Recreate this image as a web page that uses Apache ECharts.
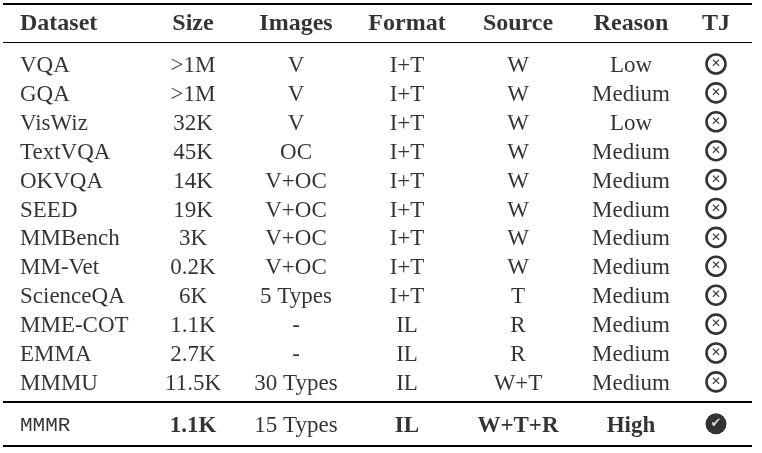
<!DOCTYPE html>
<html><head><meta charset="utf-8">
<script src="https://cdn.jsdelivr.net/npm/echarts@6/dist/echarts.min.js"></script>
<style>html,body{margin:0;padding:0;background:#fff}#c{width:762px;height:453px}</style>
</head><body><div id="c"></div>
<script>
const headers = ['Dataset','Size','Images','Format','Source','Reason','TJ'];
const datasets = ['VQA','GQA','VisWiz','TextVQA','OKVQA','SEED','MMBench','MM-Vet','ScienceQA','MME-COT','EMMA','MMMU'];
const sizes = ['>1M','>1M','32K','45K','14K','19K','3K','0.2K','6K','1.1K','2.7K','11.5K'];
const images = ['V','V','V','OC','V+OC','V+OC','V+OC','V+OC','5 Types','-','-','30 Types'];
const formats = ['I+T','I+T','I+T','I+T','I+T','I+T','I+T','I+T','I+T','IL','IL','IL'];
const sources = ['W','W','W','W','W','W','W','W','T','R','R','W+T'];
const reasons = ['Low','Medium','Low','Medium','Medium','Medium','Medium','Medium','Medium','Medium','Medium','Medium'];
const tj = [false,false,false,false,false,false,false,false,false,false,false,false];
const ours = ['MMMR','1.1K','15 Types','IL','W+T+R','High',true];

// layout
const colX = [20,193,296,407,518,631,716];
const headerRow = -1.45, oursRow = 12.45;
const rules = [{y:-2.076,w:2},{y:-0.761,w:1.2},{y:11.696,w:1.8},{y:13.218,w:2.2}];
const serif = 'Liberation Serif';
const columns = [datasets,sizes,images,formats,sources,reasons];
const off = [0,2];

const series = [];
series.push({type:'scatter',symbolSize:0,silent:true,
  data: headers.map((h,i)=>({value:[colX[i],headerRow],name:h,
    label:{align:i===0?'left':'center'}})),
  label:{show:true,position:'inside',offset:off,formatter:p=>p.name,fontFamily:serif,fontWeight:'bold',fontSize:24,color:'#000'},
  markLine:{silent:true,symbol:'none',label:{show:false},
    data: rules.map(r=>[{coord:[3,r.y],lineStyle:{width:r.w,color:'#000',type:'solid'}},{coord:[752,r.y]}])}
});
columns.forEach((col,ci)=>{
  series.push({type:'scatter',symbolSize:0,silent:true,
    data: col.map((v,ri)=>({value:[colX[ci],ri],name:v})),
    label:{show:true,position:'inside',offset:off,align:ci===0?'left':'center',formatter:p=>p.name,fontFamily:serif,fontSize:23,color:'#000'}
  });
});
series.push({type:'scatter',symbol:'circle',symbolSize:19,silent:true,
  data: tj.map((v,ri)=>({value:[colX[6],ri]})),
  itemStyle:{color:'#fff',borderColor:'#000',borderWidth:2.6},
  label:{show:true,position:'inside',offset:[0,0],formatter:'✕',fontFamily:'DejaVu Sans',fontWeight:'bold',fontSize:12,color:'#000'}
});
series.push({type:'scatter',symbolSize:0,silent:true,
  data: ours.slice(0,6).map((v,i)=>({value:[colX[i],oursRow],name:v,
    label:i===0?{align:'left',fontFamily:'Liberation Mono',fontWeight:'normal',fontSize:21}:
      (i===2?{fontWeight:'normal'}:{})})),
  label:{show:true,position:'inside',offset:off,align:'center',formatter:p=>p.name,fontFamily:serif,fontWeight:'bold',fontSize:23,color:'#000'}
});
series.push({type:'scatter',symbol:'circle',symbolSize:21,silent:true,
  data:[{value:[colX[6],oursRow]}],
  itemStyle:{color:'#000'},
  label:{show:true,position:'inside',formatter:'✔',fontFamily:'DejaVu Sans',fontSize:13,color:'#fff'}
});

const chart = echarts.init(document.getElementById('c'));
chart.setOption({
  animation:false,
  grid:{left:0,right:0,top:0,bottom:0},
  xAxis:{type:'value',min:0,max:762,show:false},
  yAxis:{type:'value',min:-2.2145,max:13.46,inverse:true,show:false},
  series
});
</script></body></html>
